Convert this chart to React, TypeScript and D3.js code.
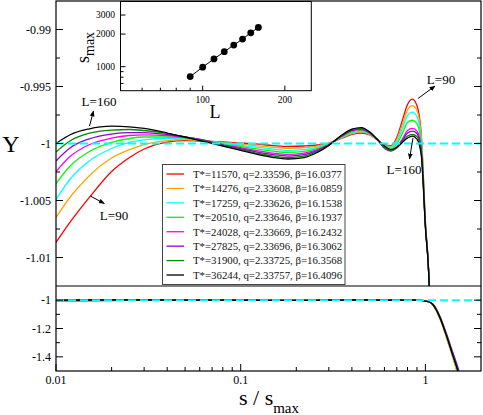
import React from "react";
import * as d3 from "d3";

// s / s_max sample points shared by every curve
const sRatio = [0.01, 0.012, 0.015, 0.02, 0.025, 0.03, 0.04, 0.05, 0.06, 0.08, 0.1, 0.12, 0.15, 0.18, 0.22, 0.26, 0.3, 0.35, 0.4, 0.45, 0.5, 0.55, 0.6, 0.65, 0.7, 0.75, 0.8, 0.85, 0.9, 0.95, 1.0, 1.05, 1.1, 1.2, 1.3, 1.4, 1.5, 1.6];

// Y(s/s_max) for each system size, L=90 ... L=160
const yL90 = [-1.00868, -1.00684, -1.00482, -1.00246, -1.00123, -1.00048, -0.99987, -0.99974, -0.99978, -0.99987, -0.99996, -1.00004, -1.00018, -1.00026, -1.00022, -1.00013, -0.99996, -0.99956, -0.99921, -0.99908, -0.99925, -0.99969, -1.00009, -1.00018, -0.99947, -0.99798, -0.99658, -0.9961, -0.99667, -0.99921, -1.00684, -1.0128, -1.035, -1.13, -1.26, -1.39, -1.52, -1.66];
const yL100 = [-1.00649, -1.00465, -1.00289, -1.00127, -1.00053, -1.00009, -0.99974, -0.99965, -0.99974, -0.99992, -1.00005, -1.00018, -1.00033, -1.00043, -1.00037, -1.00023, -0.99999, -0.99952, -0.99914, -0.99901, -0.99921, -0.99968, -1.00016, -1.00026, -0.99965, -0.99833, -0.99706, -0.99667, -0.99711, -0.99947, -1.00693, -1.0128, -1.036, -1.135, -1.265, -1.395, -1.53, -1.67];
const yL110 = [-1.00491, -1.00307, -1.00158, -1.00044, -0.99991, -0.99969, -0.99956, -0.99961, -0.99969, -0.99997, -1.00016, -1.00031, -1.00049, -1.0006, -1.00053, -1.00033, -1.00003, -0.99948, -0.99907, -0.99894, -0.99918, -0.99968, -1.00022, -1.00035, -0.99982, -0.99868, -0.99754, -0.99725, -0.99763, -0.99974, -1.00702, -1.0128, -1.033, -1.128, -1.255, -1.385, -1.51, -1.65];
const yL120 = [-1.00351, -1.00193, -1.00075, -0.99991, -0.99956, -0.99943, -0.99943, -0.99952, -0.99965, -1.00004, -1.00026, -1.00046, -1.00067, -1.00078, -1.00069, -1.00044, -1.00006, -0.99944, -0.99898, -0.99885, -0.99913, -0.99968, -1.00031, -1.00048, -1.00004, -0.99912, -0.99816, -0.99796, -0.99825, -1.00009, -1.0071, -1.0128, -1.032, -1.125, -1.25, -1.38, -1.5, -1.64];
const yL130 = [-1.00246, -1.0011, -1.00013, -0.99952, -0.9993, -0.99925, -0.9993, -0.99947, -0.99965, -1.00009, -1.00037, -1.0006, -1.00084, -1.00096, -1.00085, -1.00054, -1.0001, -0.99939, -0.9989, -0.99877, -0.99909, -0.99967, -1.00039, -1.00061, -1.00026, -0.99961, -0.99886, -0.99868, -0.9989, -1.00044, -1.00719, -1.0128, -1.031, -1.122, -1.245, -1.375, -1.495, -1.63];
const yL140 = [-1.00153, -1.00035, -0.99961, -0.99917, -0.99904, -0.99904, -0.99921, -0.99943, -0.99965, -1.00013, -1.00046, -1.00071, -1.00097, -1.0011, -1.00098, -1.00063, -1.00012, -0.99936, -0.99884, -0.99871, -0.99905, -0.99966, -1.00042, -1.00066, -1.00035, -0.99974, -0.99908, -0.99892, -0.99912, -1.00061, -1.00719, -1.0128, -1.029, -1.115, -1.235, -1.36, -1.475, -1.61];
const yL150 = [-1.00075, -0.99974, -0.99912, -0.99882, -0.99877, -0.99886, -0.99912, -0.99943, -0.99969, -1.00018, -1.00054, -1.00082, -1.00111, -1.00124, -1.00111, -1.00072, -1.00015, -0.99932, -0.99878, -0.99865, -0.99902, -0.99965, -1.00035, -1.00061, -1.00039, -0.99987, -0.99934, -0.99921, -0.99939, -1.00079, -1.00728, -1.0128, -1.031, -1.123, -1.248, -1.378, -1.5, -1.64];
const yL160 = [-1.0, -0.99921, -0.99873, -0.99848, -0.99854, -0.99868, -0.99908, -0.99943, -0.99974, -1.00022, -1.00061, -1.00092, -1.00123, -1.00136, -1.00123, -1.00079, -1.00018, -0.9993, -0.99873, -0.9986, -0.99899, -0.99965, -1.00022, -1.00053, -1.00035, -0.99991, -0.99952, -0.99936, -0.99961, -1.00105, -1.00737, -1.0128, -1.032, -1.125, -1.25, -1.38, -1.5, -1.64];

const allSeries = [yL90, yL100, yL110, yL120, yL130, yL140, yL150, yL160];
const colors = ["#ff0000", "#ffa500", "#00ffff", "#00ff00", "#ff00ff", "#9400d3", "#008b00", "#000000"];

// legend text parts
const tStar = ["11570", "14276", "17259", "20510", "24028", "27825", "31900", "36244"];
const qVals = ["2.33596", "2.33608", "2.33626", "2.33646", "2.33669", "2.33696", "2.33725", "2.33757"];
const betaVals = ["16.0377", "16.0859", "16.1538", "16.1937", "16.2432", "16.3062", "16.3568", "16.4096"];

// inset: s_max vs L (log-log)
const lSizes = [90, 100, 110, 120, 130, 140, 150, 160];
const sMax = [810, 990, 1180, 1375, 1585, 1800, 2055, 2305];

// axis ticks
const topMajor = [-1.01, -1.005, -1, -0.995, -0.99];
const topMajorLabels = ["-1.01", "-1.005", "-1", "-0.995", "-0.99"];
const topMinor = [-1.0075, -1.0025, -0.9975, -0.9925];
const botMajor = [-1.4, -1.2, -1];
const botMajorLabels = ["-1.4", "-1.2", "-1"];
const botMinor = [-1.3, -1.1];
const xMajor = [0.01, 0.1, 1];
const xMajorLabels = ["0.01", "0.1", "1"];
const xMinor = [0.02, 0.03, 0.04, 0.05, 0.06, 0.07, 0.08, 0.09, 0.2, 0.3, 0.4, 0.5, 0.6, 0.7, 0.8, 0.9];
const insetXMajor = [100, 200];
const insetXMinor = [60, 70, 80, 90];
const insetYMajor = [1000, 2000, 3000];
const insetYMinor = [700, 800, 900];

export default function App() {
  const W = 483, H = 415;
  const left = 56, right = 481, top = 1, mid = 286, bottom = 371;

  const x = d3.scaleLog().domain([0.01, 2]).range([left, right]);
  const yTop = d3.scaleLinear().domain([-1.0125, -0.9875]).range([mid, top]);
  const yBot = d3.scaleLinear().domain([-1.5, -0.9]).range([bottom, mid]);

  const lineTop = d3.line<number>()
    .x((_, i) => x(sRatio[i]))
    .y(d => yTop(d))
    .curve(d3.curveMonotoneX);
  const lineBot = d3.line<number>()
    .x((_, i) => x(sRatio[i]))
    .y(d => yBot(d))
    .curve(d3.curveMonotoneX);

  // inset scales
  const ix = d3.scaleLog().domain([50, 250]).range([120.5, 311.3]);
  const iy = d3.scaleLog().domain([600, 4000]).range([90.7, 1.5]);
  const insetLine = d3.line<number>().x((d) => ix(d)).y((_, i) => iy(sMax[i]));

  return (
    <svg width={W} height={H} style={{ position: "absolute", left: 0, top: 0, background: "#fff" }}>
      <style>{`text { font-family: "Liberation Serif", "Times New Roman", Times, "DejaVu Serif", serif; }`}</style>
      <defs>
        <clipPath id="clipTop"><rect x={left} y={top} width={right - left} height={mid - top} /></clipPath>
        <clipPath id="clipBot"><rect x={left} y={mid} width={right - left} height={bottom - mid} /></clipPath>
        <marker id="arr" viewBox="0 0 10 10" refX="9" refY="5" markerWidth="6" markerHeight="6" orient="auto">
          <path d="M0,1 L10,5 L0,9 z" fill="#000" />
        </marker>
      </defs>

      {/* curves, top panel */}
      <g clipPath="url(#clipTop)">
        {allSeries.map((ys, k) => (
          <path key={k} d={lineTop(ys) || ""} fill="none" stroke={colors[k]} strokeWidth={1.3} />
        ))}
        <line x1={left} x2={right} y1={yTop(-1)} y2={yTop(-1)} stroke="#00ffff" strokeWidth={2} strokeDasharray="8,4" />
      </g>

      {/* curves, bottom panel */}
      <g clipPath="url(#clipBot)">
        {allSeries.map((ys, k) => (
          <path key={k} d={lineBot(ys) || ""} fill="none" stroke={colors[k]} strokeWidth={1.3} />
        ))}
        <line x1={left} x2={right} y1={yBot(-1)} y2={yBot(-1)} stroke="#00ffff" strokeWidth={2} strokeDasharray="8,4" />
      </g>

      {/* frames */}
      <rect x={left} y={top} width={right - left} height={bottom - top} fill="none" stroke="#000" strokeWidth={1.2} />
      <line x1={left} x2={right} y1={mid} y2={mid} stroke="#000" strokeWidth={1.2} />

      {/* top panel y ticks */}
      {topMajor.map((v, i) => (
        <g key={"tm" + i}>
          <line x1={left} x2={left + 7} y1={yTop(v)} y2={yTop(v)} stroke="#000" />
          <line x1={right} x2={right - 7} y1={yTop(v)} y2={yTop(v)} stroke="#000" />
          <text x={left - 5} y={yTop(v) + 4} fontSize={12} textAnchor="end">{topMajorLabels[i]}</text>
        </g>
      ))}
      {topMinor.map((v, i) => (
        <g key={"tn" + i}>
          <line x1={left} x2={left + 4} y1={yTop(v)} y2={yTop(v)} stroke="#000" />
          <line x1={right} x2={right - 4} y1={yTop(v)} y2={yTop(v)} stroke="#000" />
        </g>
      ))}

      {/* bottom panel y ticks */}
      {botMajor.map((v, i) => (
        <g key={"bm" + i}>
          <line x1={left} x2={left + 7} y1={yBot(v)} y2={yBot(v)} stroke="#000" />
          <line x1={right} x2={right - 7} y1={yBot(v)} y2={yBot(v)} stroke="#000" />
          <text x={left - 5} y={yBot(v) + 4} fontSize={12} textAnchor="end">{botMajorLabels[i]}</text>
        </g>
      ))}
      {botMinor.map((v, i) => (
        <g key={"bn" + i}>
          <line x1={left} x2={left + 4} y1={yBot(v)} y2={yBot(v)} stroke="#000" />
          <line x1={right} x2={right - 4} y1={yBot(v)} y2={yBot(v)} stroke="#000" />
        </g>
      ))}

      {/* x ticks */}
      {xMajor.map((v, i) => (
        <g key={"xm" + i}>
          <line x1={x(v)} x2={x(v)} y1={bottom} y2={bottom - 7} stroke="#000" />
          <text x={x(v)} y={384} fontSize={12} textAnchor="middle">{xMajorLabels[i]}</text>
        </g>
      ))}
      {xMinor.map((v, i) => (
        <line key={"xn" + i} x1={x(v)} x2={x(v)} y1={bottom} y2={bottom - 4} stroke="#000" />
      ))}

      {/* axis titles */}
      <text x={11} y={152} fontSize={24} textAnchor="middle">Y</text>
      <text x={269} y={405} fontSize={22} textAnchor="middle">
        s / s<tspan fontSize={15} dy={8}>max</tspan>
      </text>

      {/* annotations */}
      <text x={99} y={106} fontSize={13} textAnchor="middle">L=160</text>
      <line x1={89.5} y1={126} x2={93.5} y2={111} stroke="#000" markerEnd="url(#arr)" />
      <text x={114} y={220} fontSize={13} textAnchor="middle">L=90</text>
      <line x1={90.3} y1={196} x2={104.3} y2={203.5} stroke="#000" markerEnd="url(#arr)" />
      <text x={441} y={84} fontSize={13} textAnchor="middle">L=90</text>
      <line x1={418} y1={98.5} x2={435} y2={86} stroke="#000" markerEnd="url(#arr)" />
      <text x={404} y={174} fontSize={13} textAnchor="middle">L=160</text>
      <line x1={413} y1={138} x2={409.5} y2={159} stroke="#000" markerEnd="url(#arr)" />

      {/* legend */}
      <rect x={162.5} y={164.5} width={182.5} height={120} fill="#fff" stroke="#444" strokeWidth={1} />
      {tStar.map((t, i) => {
        const ry = 174 + i * 14.43;
        return (
          <g key={"lg" + i}>
            <line x1={166.5} x2={184} y1={ry} y2={ry} stroke={colors[i]} strokeWidth={1.3} />
            <text x={193} y={ry + 3.8} fontSize={10.8} fill="#111">
              {`T*=${t}, q=${qVals[i]}, \u03b2=${betaVals[i]}`}
            </text>
          </g>
        );
      })}

      {/* inset */}
      <rect x={120.5} y={1.5} width={311.3 - 120.5} height={90.7 - 1.5} fill="#fff" stroke="#000" strokeWidth={1} />
      {insetXMajor.map((v, i) => (
        <g key={"ixm" + i}>
          <line x1={ix(v)} x2={ix(v)} y1={90.7} y2={85.7} stroke="#000" />
          <text x={ix(v)} y={103} fontSize={9.5} textAnchor="middle">{v}</text>
        </g>
      ))}
      {insetXMinor.map((v, i) => (
        <line key={"ixn" + i} x1={ix(v)} x2={ix(v)} y1={90.7} y2={87.7} stroke="#000" />
      ))}
      {insetYMajor.map((v, i) => (
        <g key={"iym" + i}>
          <line x1={120.5} x2={125.5} y1={iy(v)} y2={iy(v)} stroke="#000" />
          <text x={115} y={iy(v) + 3.3} fontSize={9.5} textAnchor="end">{v}</text>
        </g>
      ))}
      {insetYMinor.map((v, i) => (
        <line key={"iyn" + i} x1={120.5} x2={123.5} y1={iy(v)} y2={iy(v)} stroke="#000" />
      ))}
      <path d={insetLine(lSizes) || ""} fill="none" stroke="#000" strokeWidth={1} />
      {lSizes.map((l, i) => (
        <circle key={"pt" + i} cx={ix(l)} cy={iy(sMax[i])} r={3.4} fill="#000" />
      ))}
      <text x={215} y={118} fontSize={18} textAnchor="middle">L</text>
      <text transform="translate(89,63) rotate(-90)" fontSize={18}>
        s<tspan fontSize={14} dy={5}>max</tspan>
      </text>
    </svg>
  );
}
